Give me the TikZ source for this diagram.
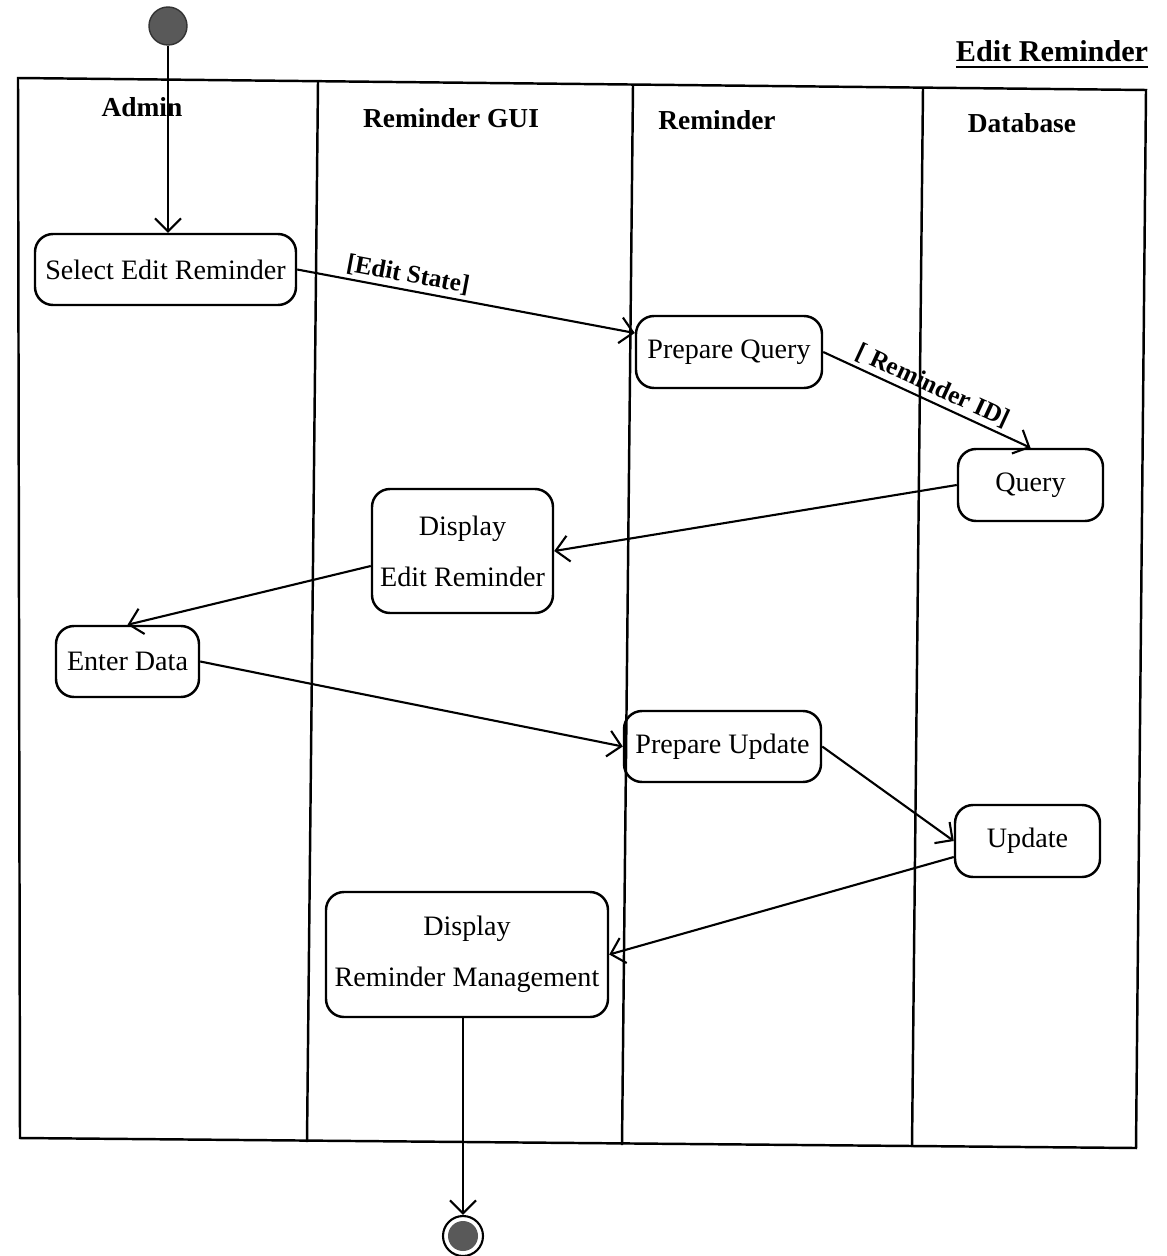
\documentclass[tikz,border=0pt]{standalone}
\usepackage{fontspec}
\setmainfont{Liberation Serif}
\usepackage{tikz}
\usetikzlibrary{arrows.meta,calc}

\tikzset{
  action/.style={draw, rounded corners=0.18cm, line width=0.7pt, align=center,
    font=\fontsize{8}{14.5}\selectfont, inner sep=2pt},
  lane/.style={line width=0.7pt},
  flow/.style={line width=0.6pt, -{Straight Barb[length=1.3mm,width=2.6mm]}},
  guard/.style={font=\fontsize{7.2}{8}\selectfont\bfseries, inner sep=1pt},
  lanetitle/.style={font=\fontsize{7.8}{9}\selectfont\bfseries}
}

\begin{document}
\begin{tikzpicture}
        \useasboundingbox (0,0) rectangle (11.66,-12.56);

        % Frame corners (the sheet is a bit skewed)
        \coordinate (TL) at (0.18,-0.78);
        \coordinate (TR) at (11.46,-0.90);
        \coordinate (BR) at (11.36,-11.48);
        \coordinate (BL) at (0.20,-11.38);

        % Swimlanes
        \draw[lane] (TL) -- (TR) -- (BR) -- (BL) -- cycle;
        \draw[lane] (3.18,-0.82) -- (3.07,-11.42);
        \draw[lane] (6.33,-0.85) -- (6.22,-11.45);
        \draw[lane] (9.23,-0.88) -- (9.12,-11.47);

        % Lane titles
        \node[lanetitle] at (1.42,-1.07) {Admin};
        \node[lanetitle] at (4.51,-1.18) {Reminder GUI};
        \node[lanetitle] at (7.17,-1.20) {Reminder};
        \node[lanetitle] at (10.22,-1.23) {Database};
        \node[font=\fontsize{8.6}{10}\selectfont\bfseries] at (10.52,-0.55) {\underline{Edit Reminder}};

        % Start and end
        \node[circle, fill=black!65, draw=black!80, minimum size=0.38cm, inner sep=0pt] (start) at (1.68,-0.26) {};
        \node[circle, draw, line width=0.6pt, minimum size=0.40cm, inner sep=0pt] (stop) at (4.63,-12.36) {};
        \node[circle, fill=black!65, minimum size=0.30cm, inner sep=0pt] at (stop) {};

        % Actions
        \node[action, minimum width=2.61cm, minimum height=0.71cm] (sel) at (1.655,-2.695) {Select Edit Reminder};
        \node[action, minimum width=1.86cm, minimum height=0.72cm] (pq) at (7.29,-3.52) {Prepare Query};
        \node[action, minimum width=1.45cm, minimum height=0.72cm] (qry) at (10.305,-4.85) {Query};
        \node[action, minimum width=1.81cm, minimum height=1.24cm] (dis) at (4.625,-5.51) {Display\\Edit Reminder};
        \node[action, minimum width=1.43cm, minimum height=0.71cm] (ent) at (1.275,-6.615) {Enter Data};
        \node[action, minimum width=1.97cm, minimum height=0.71cm] (pu) at (7.225,-7.465) {Prepare Update};
        \node[action, minimum width=1.45cm, minimum height=0.72cm] (upd) at (10.275,-8.41) {Update};
        \node[action, minimum width=2.82cm, minimum height=1.25cm] (man) at (4.67,-9.545) {Display\\Reminder Management};

        % Flows
        \draw[flow] (start) -- (start |- sel.north);
        \draw[flow] (sel.east) -- node[guard, above, sloped, pos=0.32] {[Edit State]} ([yshift=0.19cm]pq.west);
        \draw[flow] (pq.east) -- node[guard, above, sloped, pos=0.5] {[ Reminder ID]} (qry.north);
        \draw[flow] (qry.west) -- (dis.east);
        \draw[flow] ([yshift=-0.15cm]dis.west) -- (ent.north);
        \draw[flow] (ent.east) -- (pu.west);
        \draw[flow] (pu.east) -- (upd.west);
        \draw[flow] ([yshift=-0.16cm]upd.west) -- (man.east);
        \draw[flow] (man.south -| stop) -- (stop.north);
      \end{tikzpicture}
\end{document}
